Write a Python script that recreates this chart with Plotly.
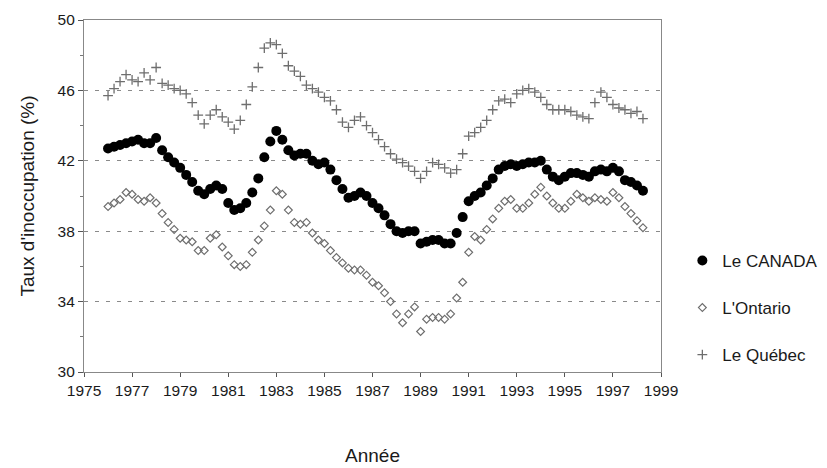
import plotly.graph_objects as go

# Quarterly time grid (decimal years), 1976 Q1 .. 1998 Q2
periodes = [1976 + i / 4 for i in range(90)]

canada = [
    42.7, 42.8, 42.9, 43.0, 43.1, 43.2, 43.0, 43.0,   # 1976-77
    43.3, 42.6, 42.2, 41.9, 41.6, 41.2, 40.8, 40.3,   # 1978-79
    40.1, 40.4, 40.6, 40.4, 39.6, 39.2, 39.3, 39.6,   # 1980-81
    40.2, 41.0, 42.2, 43.1, 43.7, 43.2, 42.6, 42.3,   # 1982-83
    42.4, 42.4, 42.0, 41.8, 41.9, 41.5, 40.9, 40.4,   # 1984-85
    39.9, 40.0, 40.2, 40.0, 39.6, 39.3, 38.9, 38.4,   # 1986-87
    38.0, 37.9, 38.0, 38.0, 37.3, 37.4, 37.5, 37.5,   # 1988-89
    37.3, 37.3, 37.9, 38.8, 39.7, 40.0, 40.2, 40.6,   # 1990-91
    41.0, 41.5, 41.7, 41.8, 41.7, 41.8, 41.9, 41.9,   # 1992-93
    42.0, 41.5, 41.1, 40.9, 41.1, 41.3, 41.3, 41.2,   # 1994-95
    41.1, 41.4, 41.5, 41.4, 41.6, 41.4, 40.9, 40.8,   # 1996-97
    40.6, 40.3,                                       # 1998
]

ontario = [
    39.4, 39.6, 39.8, 40.2, 40.1, 39.8, 39.7, 39.9,
    39.6, 39.0, 38.5, 38.1, 37.6, 37.5, 37.4, 36.9,
    36.9, 37.6, 37.8, 37.1, 36.6, 36.1, 36.0, 36.1,
    36.8, 37.5, 38.3, 39.2, 40.3, 40.1, 39.2, 38.5,
    38.4, 38.5, 37.9, 37.5, 37.3, 36.9, 36.5, 36.2,
    35.9, 35.8, 35.8, 35.5, 35.1, 34.9, 34.5, 34.0,
    33.3, 32.8, 33.3, 33.7, 32.3, 33.0, 33.1, 33.1,
    33.0, 33.3, 34.2, 35.1, 36.8, 37.7, 37.5, 38.1,
    38.7, 39.3, 39.7, 39.8, 39.3, 39.3, 39.6, 40.1,
    40.5, 40.0, 39.6, 39.3, 39.3, 39.7, 40.1, 39.9,
    39.7, 39.9, 39.8, 39.7, 40.2, 39.9, 39.4, 39.0,
    38.6, 38.2,
]

quebec = [
    45.7, 46.1, 46.5, 46.9, 46.6, 46.5, 47.0, 46.6,
    47.3, 46.4, 46.3, 46.1, 46.0, 45.8, 45.3, 44.6,
    44.1, 44.6, 44.9, 44.5, 44.2, 43.8, 44.3, 45.2,
    46.2, 47.3, 48.4, 48.7, 48.6, 48.1, 47.4, 47.1,
    46.8, 46.3, 46.1, 45.9, 45.6, 45.4, 44.9, 44.2,
    43.9, 44.3, 44.5, 44.0, 43.6, 43.2, 42.8, 42.4,
    42.1, 41.9, 41.7, 41.4, 41.0, 41.4, 41.9, 41.8,
    41.6, 41.3, 41.5, 42.4, 43.4, 43.6, 43.9, 44.3,
    44.9, 45.4, 45.5, 45.3, 45.8, 46.0, 46.1, 45.9,
    45.6, 45.2, 44.9, 44.9, 44.9, 44.8, 44.6, 44.5,
    44.4, 45.3, 45.9, 45.6, 45.2, 45.0, 44.9, 44.7,
    44.8, 44.4,
]

noms = ["Le CANADA", "L'Ontario", "Le Québec"]
x_ticks = list(range(1975, 2000, 2))
y_ticks = [30, 34, 38, 42, 46, 50]

FONT = "Liberation Sans, Arial, sans-serif"

fig = go.Figure()
fig.add_trace(go.Scatter(
    x=periodes, y=canada, name=noms[0], mode="markers", legendgroup="a",
    marker=dict(symbol="circle", size=10, color="#000000", line=dict(width=0)),
))
fig.add_trace(go.Scatter(
    x=periodes, y=ontario, name=noms[1], mode="markers", legendgroup="b",
    marker=dict(symbol="diamond-open", size=6, color="#6e6e6e", line=dict(width=1.2)),
))
fig.add_trace(go.Scatter(
    x=periodes, y=quebec, name=noms[2], mode="markers", legendgroup="c",
    marker=dict(symbol="cross-thin", size=7, color="#6e6e6e", line=dict(width=1.3, color="#6e6e6e")),
))

fig.update_layout(
    width=827, height=468,
    margin=dict(l=76, r=158, t=12, b=104),
    paper_bgcolor="white", plot_bgcolor="white",
    font=dict(family=FONT, size=15, color="#1a1a1a"),
    legend=dict(
        x=1.037, xanchor="left", xref="paper", y=0.182, yanchor="middle",
        font=dict(size=17, color="#1a1a1a"),
        tracegroupgap=22, itemwidth=30, bgcolor="rgba(0,0,0,0)",
    ),
    xaxis=dict(
        range=[1975, 1999], tickmode="array", tickvals=x_ticks,
        ticktext=[str(v) for v in x_ticks],
        ticks="outside", ticklen=4, tickcolor="#555555",
        showline=True, linecolor="#888888", linewidth=1.2, mirror=True,
        showgrid=False, zeroline=False, automargin=False,
        tickfont=dict(size=15.5),
        title=dict(text="Année", font=dict(size=19), standoff=50),
    ),
    yaxis=dict(
        range=[30, 50], tickmode="array", tickvals=y_ticks,
        ticktext=[str(v) for v in y_ticks],
        ticks="outside", ticklen=5, tickcolor="#555555",
        minor=dict(tickvals=[32, 36, 40, 44, 48], ticks="outside", ticklen=3, tickcolor="#777777", showgrid=False),
        showline=True, linecolor="#888888", linewidth=1.2, mirror=True,
        showgrid=True, gridcolor="#8a8a8a", gridwidth=1.3, griddash="4px,7px",
        zeroline=False, automargin=False,
        tickfont=dict(size=15.5),
        title=dict(text="Taux d'inoccupation (%)", font=dict(size=19), standoff=17),
    ),
)

fig.write_html("out.html")
